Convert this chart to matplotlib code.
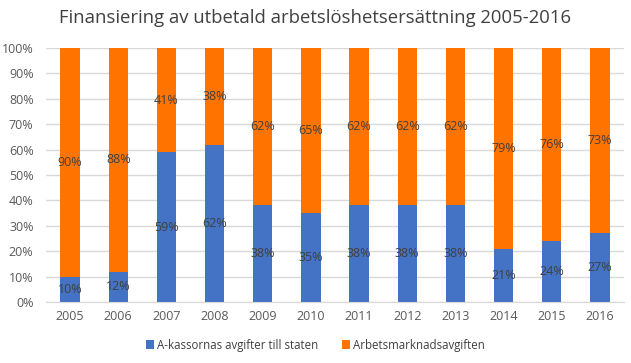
import matplotlib
matplotlib.use("Agg")
import matplotlib.pyplot as plt
import numpy as np

plt.rcParams['font.family'] = ['Open Sans', 'DejaVu Sans']

years = ['2005', '2006', '2007', '2008', '2009', '2010', '2011', '2012', '2013', '2014', '2015', '2016']
a_kassor = [10, 12, 59, 62, 38, 35, 38, 38, 38, 21, 24, 27]
arbetsmarknad = [90, 88, 41, 38, 62, 65, 62, 62, 62, 79, 76, 73]

blue = '#4472C4'
orange = '#FF7300'

fig = plt.figure(figsize=(6.31, 3.63), dpi=100)
ax = fig.add_axes([46 / 631, 1 - 302 / 363, 578 / 631, 254 / 363])

x = np.arange(len(years))
b1 = ax.bar(x, a_kassor, width=0.4, color=blue, label='A-kassornas avgifter till staten', zorder=2)
b2 = ax.bar(x, arbetsmarknad, width=0.4, bottom=a_kassor, color=orange, label='Arbetsmarknadsavgiften', zorder=2)

for i in range(len(years)):
    ax.text(x[i], a_kassor[i] / 2, '{}%'.format(a_kassor[i]), ha='center', va='center',
            fontsize=9, color='#404040', zorder=3)
    ax.text(x[i], a_kassor[i] + arbetsmarknad[i] / 2, '{}%'.format(arbetsmarknad[i]), ha='center', va='center',
            fontsize=9, color='#404040', zorder=3)

ax.set_xlim(-0.5, len(years) - 0.5)
ax.set_ylim(0, 100)
ax.set_yticks(range(0, 101, 10))
ax.set_yticklabels(['{}%'.format(v) for v in range(0, 101, 10)])
ax.set_xticks(x)
ax.set_xticklabels(years)
ax.yaxis.grid(True, color='#D9D9D9', linewidth=1, zorder=0)
ax.set_axisbelow(True)
for s in ['top', 'right', 'left']:
    ax.spines[s].set_visible(False)
ax.spines['bottom'].set_color('#D9D9D9')
ax.tick_params(axis='both', length=0, labelsize=9, colors='#595959')
ax.tick_params(axis='x', pad=6)
ax.tick_params(axis='y', pad=9)

fig.text(0.5, 1 - 18 / 363, 'Finansiering av utbetald arbetslöshetsersättning 2005-2016',
         ha='center', va='center', fontsize=13.3, color='#404040')

fig.legend(handles=[b1, b2], loc='center', bbox_to_anchor=(0.5, 1 - 345 / 363), ncol=2,
           frameon=False, fontsize=8.3, handlelength=0.7, handleheight=0.7, columnspacing=2.0,
           handletextpad=0.3, labelcolor='#404040')

fig.savefig('out.png', dpi=100)
